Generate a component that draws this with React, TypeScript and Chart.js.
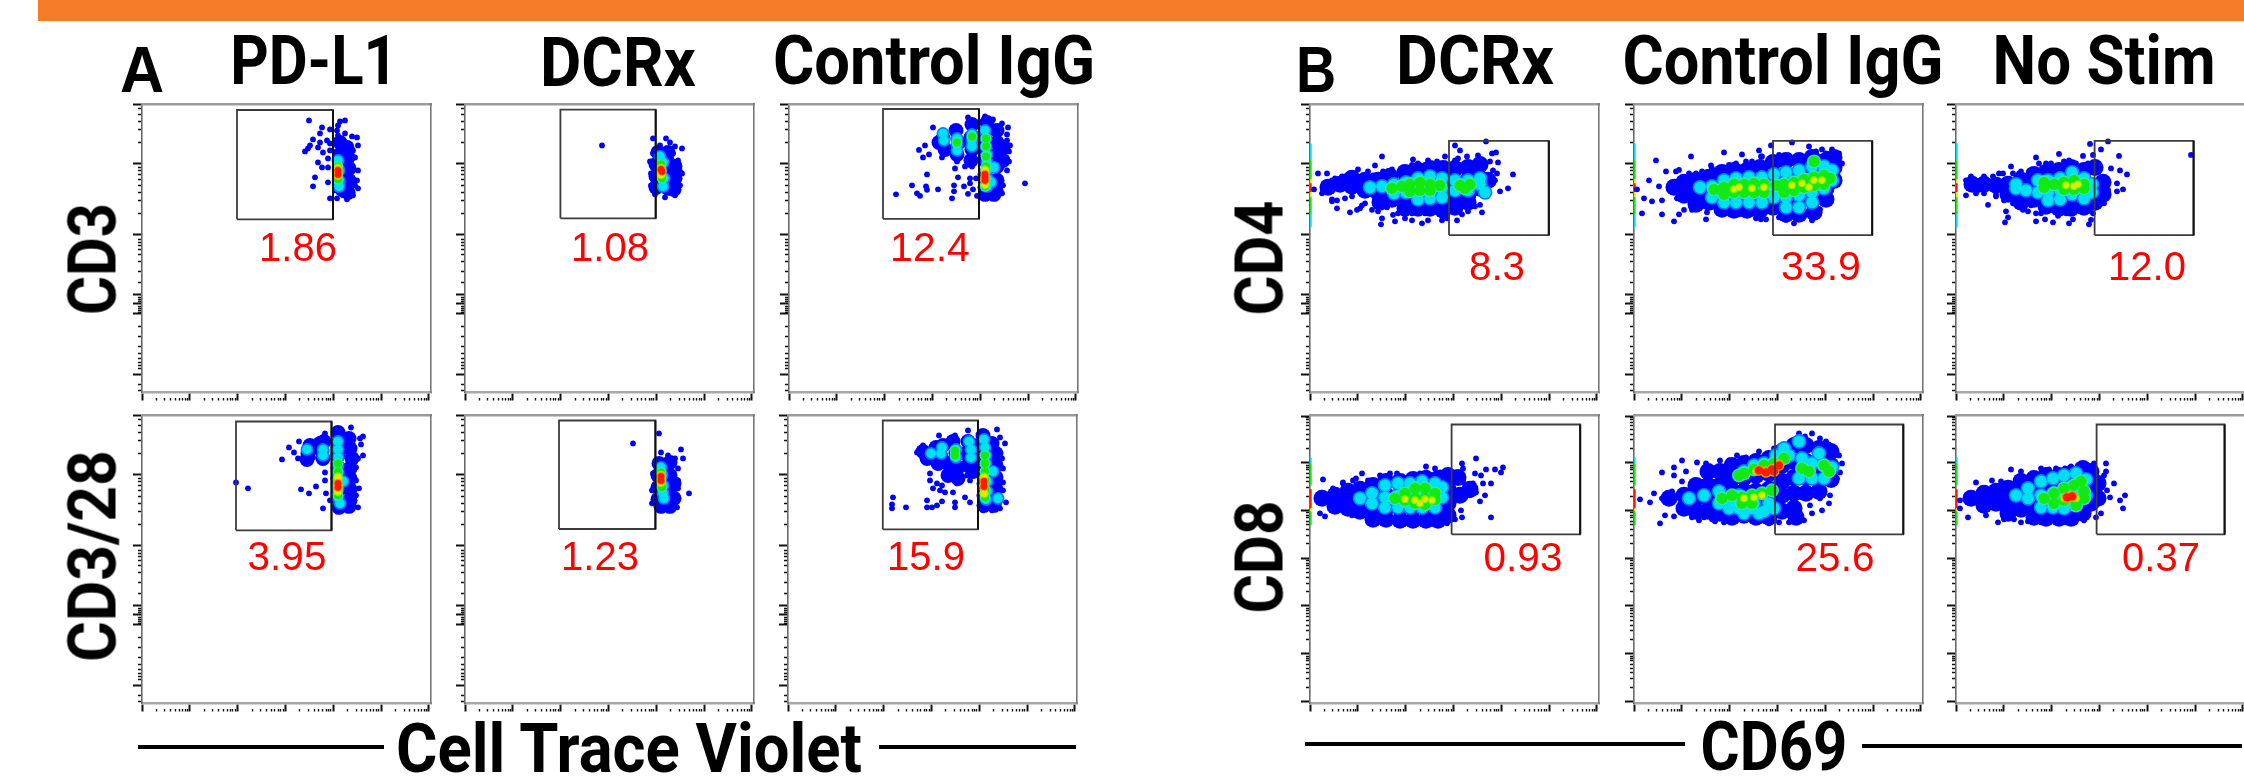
import React, { useEffect, useRef } from "react";
import { Chart, registerables } from "chart.js";

Chart.register(...registerables);

type P = [number, number];

// ---------- axis ticks (channel units) ----------
const xMajorTicks = [0, 47.8, 95.7, 143.5, 191.3, 239.1, 286.9];
const logSteps = [0.3, 0.48, 0.6, 0.7, 0.78, 0.85, 0.9, 0.95];
const xMinorTicks = xMajorTicks.slice(0, 6).flatMap((m) => logSteps.map((s) => m + s * 47.8));
const biexMajorTicks = [288, 228.5, 157.5, 97.5, 88.5, 78.5, 17.8];
const biexMinorTicks = [249.8, 262.6, 271.1, 278.2, 283.9, 178.9, 191.6, 200.1, 207.2, 212.9, 217.8, 221.4, 225, 110, 121, 131, 138, 143, 147, 150, 153, 95, 93, 91, 86, 84, 82, 80, 66, 56, 46, 39, 34, 30, 27, 24, 8, 2];
const logMajorTicks = [287, 240.6, 192.8, 145, 97.2, 49.4, 1.6];
const logMinorTicks = [49.4, 97.2, 145, 192.8, 1.6, 240.6].flatMap((m) => logSteps.map((s) => m + s * 47.8)).filter((v) => v < 287);

// ---------- gates: xMin, xMax, yMin, yMax ----------
const gateA11 = [95, 191, 173, 282.5];
const gateA12 = [95.4, 190.7, 174, 282.8];
const gateA13 = [94, 190, 173.5, 283.5];
const gateA21 = [94, 189.5, 173, 282];
const gateA22 = [94, 190.4, 174.3, 283];
const gateA23 = [94.8, 190, 174, 283];
const gateB11 = [139, 238.8, 157.2, 251.5];
const gateB12 = [139, 238.2, 157.2, 251.5];
const gateB13 = [138.6, 237.6, 157.2, 251.5];
const gateB21 = [141.6, 270.2, 169, 279];
const gateB22 = [141, 269.3, 169, 279];
const gateB23 = [140.6, 268.6, 169, 279];

// ---------- panel A, top row, PD-L1 ----------
const a11Dots: P[] = [[167,272],[180,265],[178,259],[188,263],[198,271],[203,272],[196,267],[195,262],[196,257],[203,259],[210,256],[215,255],[171,253],[168,247],[163,241],[166,244],[178,250],[185,252],[188,249],[176,245],[181,240],[188,242],[176,230],[180,225],[186,234],[186,225],[173,215],[171,206],[186,210],[188,194],[195,194],[205,193],[211,197],[216,204],[215,212],[216,222],[213,235],[216,247],[211,242],[206,249],[210,225],[213,207],[201,197],[193,202]];
const a11Fill: P[] = [[198,250],[205,245],[198,238],[206,235],[199,226],[207,224],[199,214],[207,212],[200,203],[206,200]];
const a11Cyan: P[] = [[196,232],[197,222],[197,212],[197,206]];
const a11Green: P[] = [[196,226],[196,220],[196,213]];
const a11Yellow: P[] = [[196,224],[196,217]];
const a11Red: P[] = [[196,222],[196,218]];

// ---------- panel A, top row, DCRx ----------
const a12Dots: P[] = [[137,247],[188,254],[201,254],[205,250],[210,246],[217,244],[188,239],[185,231],[213,232],[215,221],[217,219],[215,207],[210,197],[200,195],[190,198],[186,207],[186,219],[208,239],[195,247]];
const a12Fill: P[] = [[193,240],[203,240],[191,228],[203,230],[210,226],[191,216],[203,216],[210,214],[191,205],[203,204],[209,203]];
const a12Cyan: P[] = [[195,236],[198,230],[196,222],[199,214],[198,206]];
const a12Green: P[] = [[196,228],[196,222],[197,214]];
const a12Yellow: P[] = [[196,224],[196,218]];
const a12Red: P[] = [[196,223],[197,221]];

// ---------- panel A, top row, Control IgG ----------
const a13Dots: P[] = [[144,265],[154,262],[130,242.5],[136,247],[140,238],[134,235],[153,235],[138,218],[123,207],[107,198],[128,199],[131,196.5],[137,206],[138,202.5],[149,203],[165,207],[165,201],[163,194],[175,206],[179,198.5],[184,203],[181,214],[181,209],[169,215],[166,224],[176,226],[183,226],[187,214],[168,231],[236,209],[221,247],[220,241],[219,265],[218,258],[218,252],[204,273],[213,269],[196,276],[179,275],[184,271],[220,231],[218,222],[214,207],[213,199],[204,195],[194,194],[188,196.5]];
const a13Fill: P[] = [[154,254],[156,243],[150,250],[167,262],[170,250],[168,238],[183,268],[182,255],[183,243],[182,232],[198,270],[208,262],[195,258],[208,250],[195,245],[208,238],[196,232],[208,226],[196,218],[208,212],[196,205],[207,202],[196,198],[205,198],[214,245],[214,232]];
const a13Cyan: P[] = [[154,259],[155,252],[168,254],[168,248],[168,242],[183,258],[183,252],[183,246],[196,262],[197,254],[197,246],[198,238],[198,230],[198,222],[198,214],[198,206],[202,210],[205,225]];
const a13Green: P[] = [[168,250],[183,256],[197,254],[197,246],[197,236],[197,226],[197,214],[196,206]];
const a13Yellow: P[] = [[196,222],[196,214],[196,208]];
const a13Red: P[] = [[196,218],[196,215],[196,212]];

// ---------- panel A, bottom row, PD-L1 ----------
const a21Dots: P[] = [[94,221],[106,215],[140,244],[157,262],[147,256],[152,251],[156,245],[166,261],[183,270],[209,276],[221,267],[218,265],[219,259],[221,248],[216,245],[214,236],[214,223],[217,215],[214,208],[216,196],[206,193],[181,195],[159,214],[167,210],[174,217],[184,210],[183,223],[183,231],[188,203],[197,195],[164,241],[171,246],[181,245],[174,261]];
const a21Fill: P[] = [[168,258],[166,250],[165,244],[178,260],[180,252],[182,262],[181,245],[196,271],[207,265],[196,260],[208,255],[196,248],[210,245],[196,236],[208,235],[196,225],[208,225],[197,214],[208,214],[197,203],[208,203],[197,196],[207,197]];
const a21Cyan: P[] = [[165,254],[181,254],[181,248],[196,262],[196,254],[196,246],[196,238],[196,230],[196,222],[196,214],[196,206],[198,200],[201,222]];
const a21Green: P[] = [[196,240],[196,232],[196,224],[196,216],[196,208]];
const a21Yellow: P[] = [[196,226],[196,218],[196,212]];
const a21Red: P[] = [[196,220],[196,216]];

// ---------- panel A, bottom row, DCRx ----------
const a22Dots: P[] = [[168,260],[194,270],[216,254],[196,251],[218,245],[224,210],[188,230],[187,213],[187,200],[212,196],[213,215],[213,223],[213,235],[203,248],[210,245]];
const a22Fill: P[] = [[194,240],[205,241],[193,228],[205,228],[209,220],[193,216],[205,215],[209,205],[193,204],[203,203],[196,197],[205,197]];
const a22Cyan: P[] = [[196,236],[197,228],[198,218],[198,210],[199,205]];
const a22Green: P[] = [[196,231],[196,224],[197,216]];
const a22Yellow: P[] = [[196,228],[196,221]];
const a22Red: P[] = [[196,227],[196,223]];

// ---------- panel A, bottom row, Control IgG ----------
const a23Dots: P[] = [[105,206],[104,199],[104,195],[118,196],[139,203],[139,196],[144,196],[149,198],[154,202],[167,201],[167,196],[177,206],[182,201],[145,215],[152,213],[157,211],[142,230],[142,223],[149,220],[154,218],[165,211],[129,251],[135,258],[151,268],[167,268],[180,273],[209,274],[217,260],[212,266],[214,245],[215,235],[215,221],[215,213],[218,201],[212,195],[204,193],[195,193],[179,228],[182,223],[169,220]];
const a23Fill: P[] = [[135,252],[145,248],[139,245],[150,240],[148,256],[155,258],[153,247],[160,240],[160,228],[165,262],[168,250],[170,236],[170,225],[180,262],[178,250],[180,238],[186,258],[186,244],[185,232],[195,268],[204,260],[196,256],[208,250],[196,244],[208,238],[196,232],[208,226],[196,220],[208,214],[196,208],[208,204],[196,198],[206,198]];
const a23Cyan: P[] = [[143,250],[154,256],[153,250],[168,254],[168,246],[181,262],[183,254],[183,246],[196,264],[197,256],[198,248],[198,240],[198,232],[199,222],[199,212],[198,204],[205,232],[210,205]];
const a23Green: P[] = [[167,253],[167,248],[197,248],[197,240],[197,232],[197,224],[197,214],[197,206]];
const a23Yellow: P[] = [[196,226],[196,218],[196,210]];
const a23Red: P[] = [[196,222],[196,217]];

// ---------- panel B, top row, DCRx ----------
const b11Dots: P[] = [[4,203],[8,219],[12,199],[17,219],[14,209],[22,193],[27,184],[40,180],[50,184],[48,223],[58,221],[72,236],[65,227],[82,223],[103,233],[108,229],[118,232],[127,231],[135,236],[145,247],[150,242],[176,251],[168,237],[182,239],[186,240],[180,231],[188,230],[203,218],[198,204],[190,201],[185,212],[177,196],[172,180],[158,181],[147,172],[132,172],[112,169],[102,172],[85,171],[71,168],[72,174],[68,181],[88,179],[115,179],[135,183],[152,178],[165,186],[55,189],[35,194],[22,212],[32,216],[45,219],[157,236],[145,232],[162,229],[172,224],[183,222],[182,214],[52,187],[62,182.5],[77,185],[83,177.5],[90,182.5],[95,174],[102,179],[107,184],[118,172],[123,182.5],[130,179],[137,174],[142,181],[148,182.5],[160,187.5],[170,187.5],[175,196],[187,219],[183,209],[102,227.5],[92,224],[73,221],[63,217],[115,227.5],[127,229],[135,229],[148,234],[155,229],[175,229],[25,214],[35,216],[42,196],[27,192],[22,191],[47,182.5]];
const b11Fill: P[] = [[18,205],[30,208],[42,206],[42,214],[55,212],[55,202],[68,212],[68,200],[70,190],[80,216],[82,205],[82,193],[95,220],[95,208],[95,195],[95,184],[108,222],[108,210],[108,195],[108,184],[120,224],[120,210],[120,195],[120,184],[133,224],[133,210],[133,195],[133,182],[145,224],[145,210],[145,195],[145,185],[158,225],[158,212],[158,198],[158,190],[170,214],[170,204],[170,228],[178,212]];
const b11Cyan: P[] = [[60,205],[72,206],[84,208],[84,199],[96,210],[96,200],[108,214],[108,204],[108,193],[120,216],[120,205],[120,194],[132,214],[132,204],[132,195],[145,212],[145,202],[158,212],[158,202],[170,208],[170,214],[175,200]];
const b11Green: P[] = [[82,204],[92,206],[100,208],[100,201],[110,210],[110,202],[120,208],[120,202],[130,207],[150,207],[160,208],[155,204]];
const b11Yellow: P[] = [];
const b11Red: P[] = [];

// ---------- panel B, top row, Control IgG ----------
const b12Dots: P[] = [[3,203],[10,194],[18,191],[8,179],[28,178],[22,232],[40,171],[57,236],[90,240],[77,227],[108,238],[125,242],[137,247],[158,250],[175,246],[182,241],[188,243],[127,236],[45,178],[72,173],[73,180],[105,178],[122,174],[132,173],[145,175],[160,169],[178,173],[185,182],[28,192],[15,212],[25,206],[32,221],[42,221],[55,219],[68,221],[83,218],[102,229],[118,231],[155,237],[168,234],[205,239],[198,243],[208,229],[205,214],[196,196],[186,183],[178,172],[43,194],[50,182.5],[58,182.5],[78,187],[87,179],[95,182.5],[108,181],[122,177.5],[127,173],[145,182.5],[152,172.5],[162,176],[172,179],[182,186],[145,237.5],[162,234],[175,232.5],[185,234],[192,239],[45,222.5],[62,219],[78,224],[95,227.5],[112,231],[128,236]];
const b12Fill: P[] = [[40,205],[50,210],[50,197],[62,212],[62,200],[62,188],[75,215],[75,203],[75,190],[88,220],[88,207],[88,194],[88,183],[100,222],[100,208],[100,194],[100,182],[113,222],[113,208],[113,194],[113,182],[126,225],[126,210],[126,195],[126,182],[139,230],[139,215],[139,200],[139,185],[152,232],[152,218],[152,203],[152,188],[152,178],[165,232],[165,218],[165,204],[165,190],[165,178],[178,235],[178,220],[178,206],[178,192],[180,180],[192,232],[192,218],[192,204],[192,193],[200,225],[200,212],[200,235]];
const b12Cyan: P[] = [[66,205],[78,206],[78,195],[90,212],[90,200],[90,190],[102,214],[102,202],[102,190],[115,215],[115,203],[115,190],[128,215],[128,203],[128,190],[140,218],[140,206],[140,195],[152,220],[152,208],[152,195],[152,185],[165,222],[165,210],[165,197],[165,185],[178,226],[178,214],[178,200],[178,190],[190,226],[190,214],[190,204],[198,222],[198,212]];
const b12Green: P[] = [[80,203],[90,205],[90,198],[100,208],[100,200],[110,208],[110,200],[120,209],[120,200],[130,208],[130,200],[142,207],[150,208],[150,200],[160,210],[160,202],[170,213],[170,205],[180,215],[180,207],[190,217],[190,208],[196,214],[180,231]];
const b12Yellow: P[] = [[105,205],[118,204],[130,205],[158,207],[168,209],[180,212],[188,212],[175,205],[100,203]];
const b12Red: P[] = [];

// ---------- panel B, top row, No Stim ----------
const b13Dots: P[] = [[10,197],[10,212],[15,216],[28,216],[32,187.5],[40,197.5],[50,181],[52,175],[49,170],[55,226],[80,235],[80,171],[89,173],[97,170],[102,176.5],[103,238.5],[127,236.5],[113,169],[117,173],[133,168],[135,172.5],[134,248.5],[152,251],[145,243],[163,236.5],[235,237.5],[155,224],[164,222],[171,218],[161,209],[167,203],[161,201],[148,189],[143,192],[137,237.5],[142,224],[73,221],[63,219],[67,182.5],[43,219],[23,202.5],[80,179],[57,189],[113,232],[90,229],[128,227],[115,182],[135,184],[150,209],[143,202.5],[152,202.5],[60,191],[68,184],[72,181],[75,187],[85,179],[92,182.5],[100,182.5],[110,179],[117,179],[125,181],[130,182.5],[137,179],[83,229],[95,229],[108,231],[120,229],[132,229],[57,219],[65,221],[47,219],[37,216],[20,199],[28,199],[40,196],[48,192]];
const b13Fill: P[] = [[16,208],[28,208],[40,207],[52,208],[52,198],[65,212],[65,200],[65,190],[78,218],[78,205],[78,193],[90,220],[90,208],[90,195],[90,186],[103,222],[103,208],[103,195],[103,184],[115,225],[115,210],[115,196],[115,184],[128,222],[128,208],[128,195],[128,185],[139,225],[139,205],[139,190],[147,210],[147,198]];
const b13Cyan: P[] = [[60,208],[70,202],[82,212],[82,200],[92,212],[92,200],[92,192],[104,214],[104,202],[104,193],[116,220],[116,210],[116,198],[128,214],[128,204],[128,194],[136,208],[136,200],[60,204]];
const b13Green: P[] = [[88,210],[88,205],[98,208],[108,210],[108,203],[118,212],[118,203],[128,208],[128,204]];
const b13Yellow: P[] = [[110,207],[118,206],[122,208]];
const b13Red: P[] = [];

// ---------- panel B, bottom row, DCRx ----------
const b21Dots: P[] = [[13,224],[15,187],[10,190],[52,230],[33,221],[46,225],[80,230],[116,237],[125,235],[116,231],[152,240],[166,245],[153,235],[176,234],[185,234],[193,236],[191,231],[165,230],[171,228],[181,220],[175,208],[170,202],[181,186],[152,186],[145,184],[135,183],[151,193],[166,211],[160,208],[153,221],[163,220],[173,220],[33,195],[42,188],[58,185],[68,183],[78,183],[88,180],[100,180],[113,181],[127,183],[137,180],[53,190],[23,215],[33,220],[43,223],[58,223],[70,228],[87,230],[100,228],[110,230],[130,231],[142,230],[150,226]];
const b21Fill: P[] = [[12,205],[25,208],[25,197],[38,205],[38,212],[38,195],[50,214],[50,202],[50,192],[63,218],[63,205],[63,193],[63,184],[76,222],[76,208],[76,195],[76,184],[90,222],[90,208],[90,195],[90,183],[103,224],[103,208],[103,195],[103,183],[116,225],[116,210],[116,195],[116,183],[128,225],[128,210],[128,195],[128,183],[138,228],[138,214],[138,200],[138,188],[148,226],[150,208],[160,214]];
const b21Cyan: P[] = [[50,205],[62,210],[62,200],[75,218],[75,206],[75,196],[88,220],[88,208],[88,196],[100,220],[100,208],[100,196],[112,222],[112,208],[112,196],[125,220],[125,208],[125,196],[132,206],[132,216]];
const b21Green: P[] = [[85,205],[95,210],[95,203],[105,215],[105,205],[105,200],[115,215],[115,205],[115,199],[125,210],[125,204]];
const b21Yellow: P[] = [[95,204],[105,203],[115,204],[122,203],[110,200]];
const b21Red: P[] = [];

// ---------- panel B, bottom row, Control IgG ----------
const b22Dots: P[] = [[26,180],[20,210],[16,201],[6,204],[28,231],[40,236],[48,243],[40,228],[31,188],[40,187],[58,186],[65,183],[81,182],[90,181],[111,186],[121,181],[155,181],[170,183],[163,181],[188,193],[196,208],[176,198],[186,205],[125,252],[103,248],[86,243],[161,264],[171,267],[186,265],[195,259],[205,248],[206,231],[203,225],[31,203],[46,196],[61,223],[63,241],[72,240],[70,186],[78,184],[100,184],[128,183],[135,180],[145,181],[150,190],[178,190],[195,200],[165,270],[178,270],[192,262],[200,255],[208,240],[95,243],[112,246],[135,250],[140,255],[150,258],[48,222],[52,232],[38,212],[28,205]];
const b22Fill: P[] = [[35,205],[50,208],[50,195],[62,205],[62,218],[62,192],[74,232],[74,218],[74,205],[74,192],[86,232],[86,218],[86,205],[86,190],[98,238],[98,225],[98,212],[98,198],[98,186],[110,240],[110,226],[110,212],[110,198],[110,188],[122,242],[122,228],[122,212],[122,198],[122,186],[135,245],[135,230],[135,214],[135,198],[135,186],[148,252],[148,238],[148,222],[148,208],[148,192],[160,258],[160,242],[160,226],[160,210],[160,195],[172,258],[172,242],[172,226],[172,210],[185,255],[185,240],[185,225],[185,212],[197,252],[197,238],[197,224],[162,186]];
const b22Cyan: P[] = [[55,205],[70,208],[85,212],[85,200],[95,205],[95,195],[105,195],[105,208],[118,195],[130,192],[140,195],[110,232],[120,238],[130,240],[142,248],[150,255],[155,248],[165,262],[168,245],[178,240],[190,238],[198,236],[178,225],[190,225],[172,232],[165,225],[185,250],[100,200],[110,190],[125,190],[120,200],[135,200]];
const b22Green: P[] = [[110,230],[120,234],[130,238],[140,240],[150,245],[105,228],[88,205],[98,208],[108,206],[118,208],[128,210],[138,213],[108,200],[118,200],[175,232],[190,238],[195,232],[168,235]];
const b22Yellow: P[] = [[122,232],[132,233],[140,236],[145,240],[110,205],[120,206],[128,208]];
const b22Red: P[] = [[125,233],[132,231],[138,234],[145,238],[140,232]];

// ---------- panel B, bottom row, No Stim ----------
const b23Dots: P[] = [[4,203],[4,195],[12,186],[55,234],[93,234],[77,230],[109,235],[36,223],[20,221],[150,240],[148,228],[169,208],[164,203],[167,195],[151,213],[154,206],[145,190],[42,181],[65,181],[119,181],[100,181],[122,238],[138,240],[30,188],[48,184],[58,184],[72,182],[85,181],[110,181],[128,183],[140,186],[45,222],[65,232],[85,235],[100,235],[115,237],[130,236],[150,232],[158,220]];
const b23Fill: P[] = [[15,205],[28,210],[28,198],[40,212],[40,200],[52,215],[52,203],[52,190],[65,222],[65,208],[65,194],[78,225],[78,210],[78,195],[78,186],[90,228],[90,213],[90,197],[90,185],[103,228],[103,213],[103,197],[103,185],[115,230],[115,213],[115,197],[115,185],[127,235],[127,220],[127,205],[127,190],[135,232],[135,215],[135,200],[142,220],[142,205]];
const b23Cyan: P[] = [[60,208],[72,205],[72,215],[85,222],[85,208],[85,196],[97,225],[97,210],[97,196],[108,228],[108,212],[108,195],[120,230],[120,215],[120,198],[130,224],[130,208]];
const b23Green: P[] = [[88,205],[98,210],[98,200],[108,215],[108,203],[118,218],[118,205],[125,222],[128,212],[128,205],[120,198]];
const b23Yellow: P[] = [[108,205],[115,208],[120,205]];
const b23Red: P[] = [[111,206],[116,207]];

// ---------- on-axis event strips: level, yMin, yMax ----------
const stripTop: [string, number, number][] = [["cyan",165,178],["green",178,195],["yellow",195,200],["red",200,209],["yellow",209,213],["green",213,232],["cyan",232,249]];
const stripBottom: [string, number, number][] = [["cyan",240,246],["green",218,240],["red",195,214],["yellow",192,195],["green",178,192]];

// ---------- text ----------
const redValues = ["1.86","1.08","12.4","3.95","1.23","15.9","8.3","33.9","12.0","0.93","25.6","0.37"];

const LEVEL: Record<string, string> = { blue: "#0000ff", cyan: "#00e0f4", green: "#12e812", yellow: "#dcee00", red: "#ff1a00" };
const HALO: Record<string, string> = { cyan: "#0080ff", green: "#30e8b0", yellow: "#80f000", red: "#ff9800" };

const sizesA = { dot: 2.9, fill: 7.5, cyan: 4.8, green: 4, yellow: 3.6, red: 3.4 };
const sizesB = { dot: 2.9, fill: 8.5, cyan: 5.8, green: 5.6, yellow: 2.8, red: 4.2 };

const ROW_TOP = 104, ROW_BOTTOM = 415;
const PANEL_W = 289, PANEL_H = 288.5;
const MARGIN_L = 12, MARGIN_B = 12, MARGIN_T = 2, MARGIN_R = 3;

const panels = [
  { left: 142, top: ROW_TOP, gate: gateA11, dots: a11Dots, fill: a11Fill, cyan: a11Cyan, green: a11Green, yellow: a11Yellow, red: a11Red, sizes: sizesA, yAxis: "biex" },
  { left: 465, top: ROW_TOP, gate: gateA12, dots: a12Dots, fill: a12Fill, cyan: a12Cyan, green: a12Green, yellow: a12Yellow, red: a12Red, sizes: sizesA, yAxis: "biex" },
  { left: 789, top: ROW_TOP, gate: gateA13, dots: a13Dots, fill: a13Fill, cyan: a13Cyan, green: a13Green, yellow: a13Yellow, red: a13Red, sizes: sizesA, yAxis: "biex" },
  { left: 142, top: ROW_BOTTOM, gate: gateA21, dots: a21Dots, fill: a21Fill, cyan: a21Cyan, green: a21Green, yellow: a21Yellow, red: a21Red, sizes: sizesA, yAxis: "biex" },
  { left: 465, top: ROW_BOTTOM, gate: gateA22, dots: a22Dots, fill: a22Fill, cyan: a22Cyan, green: a22Green, yellow: a22Yellow, red: a22Red, sizes: sizesA, yAxis: "biex" },
  { left: 788, top: ROW_BOTTOM, gate: gateA23, dots: a23Dots, fill: a23Fill, cyan: a23Cyan, green: a23Green, yellow: a23Yellow, red: a23Red, sizes: sizesA, yAxis: "biex" },
  { left: 1310, top: ROW_TOP, gate: gateB11, dots: b11Dots, fill: b11Fill, cyan: b11Cyan, green: b11Green, yellow: b11Yellow, red: b11Red, sizes: sizesB, yAxis: "biex", strip: stripTop },
  { left: 1634, top: ROW_TOP, gate: gateB12, dots: b12Dots, fill: b12Fill, cyan: b12Cyan, green: b12Green, yellow: b12Yellow, red: b12Red, sizes: sizesB, yAxis: "biex", strip: stripTop },
  { left: 1956, top: ROW_TOP, gate: gateB13, dots: b13Dots, fill: b13Fill, cyan: b13Cyan, green: b13Green, yellow: b13Yellow, red: b13Red, sizes: sizesB, yAxis: "biex", strip: stripTop },
  { left: 1310, top: ROW_BOTTOM, gate: gateB21, dots: b21Dots, fill: b21Fill, cyan: b21Cyan, green: b21Green, yellow: b21Yellow, red: b21Red, sizes: sizesB, yAxis: "log", strip: stripBottom },
  { left: 1634, top: ROW_BOTTOM, gate: gateB22, dots: b22Dots, fill: b22Fill, cyan: b22Cyan, green: b22Green, yellow: b22Yellow, red: b22Red, sizes: sizesB, yAxis: "log", strip: stripBottom },
  { left: 1956, top: ROW_BOTTOM, gate: gateB23, dots: b23Dots, fill: b23Fill, cyan: b23Cyan, green: b23Green, yellow: b23Yellow, red: b23Red, sizes: sizesB, yAxis: "log", strip: stripBottom },
];

const redSpots = [[297.7,247],[610,247],[930,247],[286.7,556],[600,556],[926,556],[1497,266],[1821,266],[2147,266],[1522.6,557],[1835,557],[2161,557]];
const redWidths = [78,78,80,79,78,78,56,80,78,79,79,78];

const pts = (a: P[]) => a.map(([x, y]) => ({ x, y }));
const layer = (a: P[], color: string, r: number) => ({
  data: pts(a), showLine: false, pointRadius: r, pointHoverRadius: r, pointBorderWidth: 0, pointBackgroundColor: color,
});

function Panel({ p }: { p: (typeof panels)[number] }) {
  const ref = useRef<HTMLCanvasElement>(null);
  useEffect(() => {
    const [x0, x1, y0, y1] = p.gate;
    const yMajor = p.yAxis === "log" ? logMajorTicks : biexMajorTicks;
    const yMinor = p.yAxis === "log" ? logMinorTicks : biexMinorTicks;
    const isMajor = (majors: number[]) => (c: any) => majors.includes(c.tick?.value);
    const mainAxis = (majors: number[], minors: number[], max: number, pos: string, len: number, borderW: number, borderC: string) => ({
      type: "linear", position: pos, min: 0, max,
      afterBuildTicks: (s: any) => { s.ticks = [...majors, ...minors].map((value) => ({ value })); },
      afterFit: (s: any) => { if (pos === "bottom") s.height = MARGIN_B; else s.width = MARGIN_L; },
      ticks: { display: false, autoSkip: false },
      border: { display: true, width: borderW, color: borderC },
      grid: {
        display: true, drawOnChartArea: false, drawTicks: true, tickLength: len, tickColor: "#111",
        tickWidth: (c: any) => (isMajor(majors)(c) ? 2 : 1.4),
        tickBorderDash: (c: any) => (isMajor(majors)(c) ? [] : [0, len - 4, 4, 40]),
      },
    });
    const frameAxis = (pos: string, axis: string, max: number, size: number, borderW: number, borderC: string) => ({
      type: "linear", axis, position: pos, min: 0, max,
      afterFit: (s: any) => { if (axis === "x") s.height = size; else s.width = size; },
      ticks: { display: false },
      border: { display: true, width: borderW, color: borderC },
      grid: { display: false },
    });
    const stripSets = ((p as any).strip || []).map(([lvl, a, b]: [string, number, number]) => ({
      data: [{ x: 0.8, y: a }, { x: 0.8, y: b }], showLine: true, borderColor: LEVEL[lvl], borderWidth: 1.8, pointRadius: 0,
    }));
    const chart = new Chart(ref.current!, {
      type: "scatter",
      data: {
        datasets: [
          { data: [{ x: x1, y: y0 }, { x: x1, y: y1 }], showLine: true, borderColor: "#111", borderWidth: 2, pointRadius: 0 },
          { data: [{ x: x0, y: y0 }, { x: x1, y: y0 }, { x: x1, y: y1 }, { x: x0, y: y1 }, { x: x0, y: y0 }], showLine: true, borderColor: "#3c3c3c", borderWidth: 1.8, pointRadius: 0 },
          layer(p.red, LEVEL.red, p.sizes.red),
          layer(p.red, HALO.red, p.sizes.red + 1.2),
          layer(p.yellow, LEVEL.yellow, p.sizes.yellow),
          layer(p.yellow, HALO.yellow, p.sizes.yellow + 1.2),
          layer(p.green, LEVEL.green, p.sizes.green),
          layer(p.green, HALO.green, p.sizes.green + 1.4),
          layer(p.cyan, LEVEL.cyan, p.sizes.cyan),
          layer(p.cyan, HALO.cyan, p.sizes.cyan + 1.6),
          layer(p.dots, LEVEL.blue, p.sizes.dot),
          layer(p.fill, LEVEL.blue, p.sizes.fill),
          ...stripSets,
        ],
      } as any,
      options: {
        responsive: false, animation: false, events: [],
        layout: { padding: 0, autoPadding: false },
        plugins: { legend: { display: false }, tooltip: { enabled: false }, title: { display: false } },
        scales: {
          x: mainAxis(xMajorTicks, xMinorTicks, PANEL_W, "bottom", 8.5, 2.5, "#a8a8a8"),
          y: mainAxis(yMajor, yMinor, PANEL_H, "left", 9, 1.6, "#6a6a6a"),
          xTop: frameAxis("top", "x", PANEL_W, MARGIN_T, 2.6, "#9a9a9a"),
          yRight: frameAxis("right", "y", PANEL_H, MARGIN_R, 1.6, "#777"),
        },
      } as any,
    });
    return () => chart.destroy();
  }, [p]);
  return (
    <canvas
      ref={ref}
      width={PANEL_W + MARGIN_L + MARGIN_R}
      height={PANEL_H + MARGIN_T + MARGIN_B}
      style={{ position: "absolute", left: p.left - MARGIN_L, top: p.top - MARGIN_T, filter: "blur(0.7px)" }}
    />
  );
}

function Label(props: { text: string; cx: number; cy: number; w: number; size: number; color?: string; weight?: number; family?: string; rot?: boolean }) {
  const { text, cx, cy, w, size, color = "#000", weight = 700, family = "Roboto", rot } = props;
  const ref = useRef<HTMLDivElement>(null);
  useEffect(() => {
    const el = ref.current!;
    const k = w / el.offsetWidth;
    el.style.transform = `translate(-50%,-50%)${rot ? " rotate(-90deg)" : ""} scaleX(${k})`;
  }, [w, rot]);
  return (
    <div
      ref={ref}
      style={{
        position: "absolute", left: cx, top: cy, fontFamily: family, fontWeight: weight, fontSize: size, lineHeight: 1,
        color, whiteSpace: "pre", filter: "blur(0.5px)", transform: "translate(-50%,-50%)",
      }}
    >
      {text}
    </div>
  );
}

const Rule = ({ x0, x1, y }: { x0: number; x1: number; y: number }) => (
  <div style={{ position: "absolute", left: x0, width: x1 - x0, top: y - 2, height: 4, background: "#000", filter: "blur(0.5px)" }} />
);

export default function App() {
  return (
    <div style={{ position: "fixed", left: 0, top: 0, width: 2244, height: 779, overflow: "hidden", background: "#fff" }}>
      <div style={{ position: "absolute", left: 38, right: 0, top: 0, height: 21, background: "#f47b28" }} />
      {panels.map((p, i) => <Panel key={i} p={p} />)}

      <Label text="A" cx={142} cy={70} w={44} size={64} family="Liberation Sans" />
      <Label text="B" cx={1316} cy={70} w={40} size={64} family="Liberation Sans" />
      <Label text="PD-L1" cx={314} cy={61} w={168} size={68} />
      <Label text="DCRx" cx={618} cy={63} w={156} size={68} />
      <Label text="Control IgG" cx={934} cy={61} w={322} size={68} />
      <Label text="DCRx" cx={1474.6} cy={61} w={158} size={68} />
      <Label text="Control IgG" cx={1782.5} cy={61} w={321} size={68} />
      <Label text="No Stim" cx={2103.5} cy={61} w={223} size={68} />

      <Label text="CD3" cx={93} cy={259} w={112} size={67} rot />
      <Label text="CD3/28" cx={93} cy={556} w={212} size={67} rot />
      <Label text="CD4" cx={1260} cy={257.5} w={115} size={67} rot />
      <Label text="CD8" cx={1260} cy={556.5} w={113} size={67} rot />

      <Label text="Cell Trace Violet" cx={629} cy={748.5} w={466} size={68} />
      <Label text="CD69" cx={1773.5} cy={746.5} w={147} size={68} />
      <Rule x0={138} x1={384} y={746.7} />
      <Rule x0={879} x1={1076} y={746.7} />
      <Rule x0={1305} x1={1685} y={744} />
      <Rule x0={1862} x1={2242} y={746} />

      {redValues.map((t, i) => (
        <Label key={t + i} text={t} cx={redSpots[i][0]} cy={redSpots[i][1]} w={redWidths[i]} size={41} color="#ff0000" weight={400} family="Liberation Sans" />
      ))}
    </div>
  );
}
